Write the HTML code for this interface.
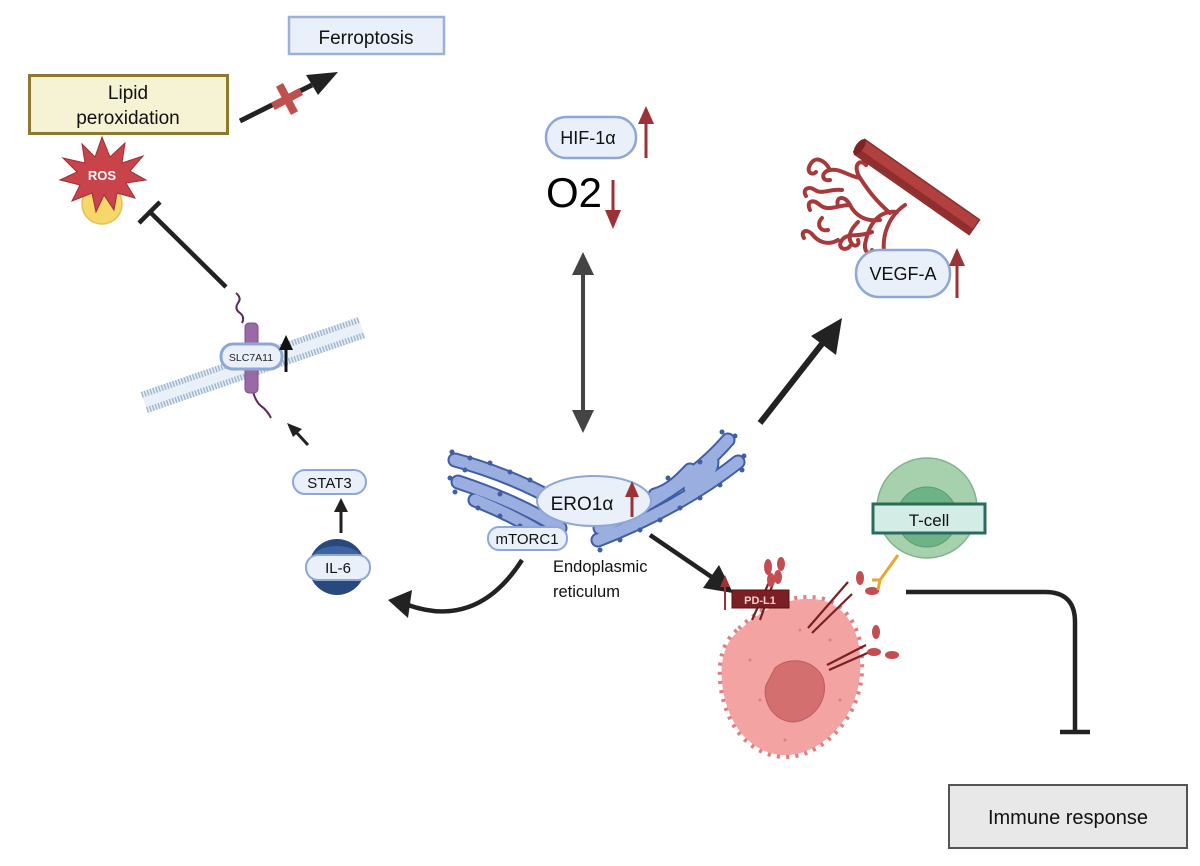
<!DOCTYPE html>
<html><head><meta charset="utf-8"><style>
html,body{margin:0;padding:0;background:#fff}
svg{display:block}
text{font-family:"Liberation Sans",sans-serif}
</style></head><body>
<svg width="1200" height="866" viewBox="0 0 1200 866" xmlns="http://www.w3.org/2000/svg">
<rect width="1200" height="866" fill="#fff"/>

<!-- Ferroptosis -->
<rect x="289" y="17" width="155" height="37" fill="#e9f0fa" stroke="#9ab2d6" stroke-width="2.5"/>
<text x="366" y="44" font-size="19" text-anchor="middle" fill="#111">Ferroptosis</text>

<!-- Lipid peroxidation -->
<rect x="29.5" y="75.5" width="198" height="58" fill="#f6f3d4" stroke="#8b7a2f" stroke-width="3"/>
<text x="128" y="99" font-size="19" text-anchor="middle" fill="#111">Lipid</text>
<text x="128" y="124" font-size="19" text-anchor="middle" fill="#111">peroxidation</text>

<!-- arrow to ferroptosis -->
<line x1="240" y1="121" x2="312" y2="85" stroke="#222" stroke-width="5"/>
<path d="M338,72 L306,75 L318,95 z" fill="#222"/>
<g transform="translate(287,99) rotate(-28)"><rect x="-16" y="-4" width="32" height="8" fill="#c0504d"/><rect x="-4" y="-16" width="8" height="32" fill="#c0504d"/></g>

<!-- ROS -->
<circle cx="102" cy="204" r="20" fill="#f6d86a" stroke="#e2c050" stroke-width="1.5"/>
<polygon points="102,137 110,157 125,143 122,163 143,156 130,171 146,180 126,183 135,198 117,193 114,210 104,195 96,212 92,193 72,201 80,185 60,180 77,172 63,158 85,163 82,144 95,157" fill="#c8434a" stroke="#9e2f36" stroke-width="1"/>
<text x="102" y="180" font-size="13" font-weight="bold" text-anchor="middle" fill="#fff">ROS</text>

<!-- inhibition to ROS -->
<line x1="226" y1="287" x2="150" y2="212" stroke="#222" stroke-width="4.5"/>
<line x1="139" y1="223" x2="160" y2="202" stroke="#222" stroke-width="4.5"/>

<!-- membrane -->
<g transform="translate(253,365) rotate(-19)">
<rect x="-115" y="-11" width="230" height="22" fill="#e9f0f8"/>
<line x1="-115" y1="-8" x2="115" y2="-8" stroke="#9fb6cf" stroke-width="6" stroke-dasharray="1.5 1.5"/>
<line x1="-115" y1="8" x2="115" y2="8" stroke="#9fb6cf" stroke-width="6" stroke-dasharray="1.5 1.5"/>
</g>
<path d="M236,293 q6,5 2,10 q-4,6 2,10 q5,4 2,10" fill="none" stroke="#5a2a5a" stroke-width="2"/>
<path d="M253,392 q3,10 8,14 q6,4 10,12" fill="none" stroke="#5a2a5a" stroke-width="2"/>
<rect x="245" y="323" width="13" height="70" rx="4" fill="#9a6aa6" stroke="#7d4d8a"/>
<rect x="221" y="344" width="61" height="25" rx="12" fill="#e9f0fa" stroke="#8ea7d6" stroke-width="3"/>
<text x="251" y="361" font-size="10.5" text-anchor="middle" fill="#222">SLC7A11</text>
<line x1="286" y1="372" x2="286" y2="348" stroke="#111" stroke-width="3"/>
<path d="M279,350 L286,335 L293,350 z" fill="#111"/>

<!-- small arrow to membrane -->
<line x1="308" y1="445" x2="296" y2="432" stroke="#222" stroke-width="3"/>
<path d="M287,423 L302,429 L293,437 z" fill="#222"/>

<!-- STAT3 -->
<rect x="293" y="470" width="73" height="24" rx="12" fill="#e9f0fa" stroke="#8ea7d6" stroke-width="2"/>
<text x="329.5" y="488" font-size="15" text-anchor="middle" fill="#111">STAT3</text>
<line x1="341" y1="533" x2="341" y2="510" stroke="#222" stroke-width="3"/>
<path d="M334,512 L341,498 L348,512 z" fill="#222"/>

<!-- IL-6 -->
<circle cx="337" cy="567" r="28" fill="#27497e"/>
<ellipse cx="337" cy="558" rx="24" ry="12" fill="#3d63a0"/>
<rect x="306" y="555" width="64" height="25" rx="12" fill="#e9f0fa" stroke="#8ea7d6" stroke-width="2"/>
<text x="338" y="573" font-size="15" text-anchor="middle" fill="#111">IL-6</text>

<!-- curved arrow mTORC1 -> IL-6 -->
<path d="M522,560 C490,610 450,620 408,605" fill="none" stroke="#222" stroke-width="4.5"/>
<path d="M388,600 L412,590 L408,618 z" fill="#222"/>

<!-- HIF-1a -->
<rect x="546" y="117" width="90" height="41" rx="20" fill="#e9f0fa" stroke="#8ea7d6" stroke-width="2.5"/>
<text x="588" y="144" font-size="18" text-anchor="middle" fill="#111">HIF-1α</text>
<line x1="646" y1="158" x2="646" y2="120" stroke="#9b3236" stroke-width="3"/>
<path d="M638,124 L646,106 L654,124 z" fill="#9b3236"/>
<text x="546" y="207" font-size="42" fill="#000">O2</text>
<line x1="613" y1="180" x2="613" y2="214" stroke="#9b3236" stroke-width="3"/>
<path d="M605,210 L613,229 L621,210 z" fill="#9b3236"/>

<!-- double arrow -->
<line x1="583" y1="270" x2="583" y2="415" stroke="#444" stroke-width="4"/>
<path d="M572,275 L583,252 L594,275 z" fill="#444"/>
<path d="M572,410 L583,433 L594,410 z" fill="#444"/>

<!-- blood vessel capillaries -->
<g stroke="#a8393b" stroke-width="4" fill="none" stroke-linecap="round">
<path d="M905,205 C890,215 880,235 885,258"/>
<path d="M897,212 C880,210 870,222 866,240 C862,252 870,256 872,250"/>
<path d="M890,213 C875,200 868,190 860,178 C852,165 860,158 866,165"/>
<path d="M880,220 C865,222 855,215 850,205 C845,195 835,196 838,206"/>
<path d="M872,232 C858,238 848,232 842,240 C836,248 846,252 850,246"/>
<path d="M860,178 C848,176 840,168 830,170 C820,172 822,182 830,180"/>
<path d="M850,205 C838,205 828,212 820,205 C812,198 806,202 810,210"/>
<path d="M830,170 C825,160 815,155 810,165 C806,172 812,176 816,172"/>
<path d="M838,240 C828,246 818,242 812,234 C806,228 800,232 804,238"/>
<path d="M866,165 C870,155 862,148 855,152"/>
<path d="M842,190 C832,188 822,195 815,190 C808,185 802,190 806,196"/>
<path d="M858,222 C852,228 846,236 852,244 C856,248 860,244 858,240"/>
<path d="M822,218 C816,224 820,232 828,230"/>
</g>
<g transform="translate(917,187) rotate(35)">
<rect x="-70" y="-9" width="140" height="18" fill="#b2403f" stroke="#8d2c2c" stroke-width="1.5"/>
<rect x="-70" y="2" width="140" height="6" fill="#8f2e2f"/>
<ellipse cx="-70" cy="0" rx="4" ry="9" fill="#7a2626"/>
</g>
<rect x="856" y="250" width="94" height="47" rx="23" fill="#e9f0fa" stroke="#8ea7d6" stroke-width="2.5"/>
<text x="903" y="280" font-size="18" text-anchor="middle" fill="#111">VEGF-A</text>
<line x1="957" y1="298" x2="957" y2="262" stroke="#9b3236" stroke-width="3"/>
<path d="M949,266 L957,248 L965,266 z" fill="#9b3236"/>

<!-- big arrow to VEGF -->
<line x1="760" y1="423" x2="825" y2="340" stroke="#222" stroke-width="6"/>
<path d="M842,318 L811,336 L836,355 z" fill="#222"/>

<!-- ER -->
<g fill="none" stroke-linecap="round">
<g stroke="#3f5ea6" stroke-width="15">
<path d="M455,460 C500,472 540,490 575,512"/>
<path d="M458,482 C500,496 530,510 560,528"/>
<path d="M475,500 C500,510 520,520 540,532"/>
<path d="M600,528 C650,505 695,478 728,440"/>
<path d="M598,540 C650,520 700,492 738,462"/>
<path d="M655,495 C672,490 682,478 690,470"/>
<path d="M690,488 C705,480 712,470 712,462"/>
</g>
<g stroke="#9aaee0" stroke-width="11">
<path d="M455,460 C500,472 540,490 575,512"/>
<path d="M458,482 C500,496 530,510 560,528"/>
<path d="M475,500 C500,510 520,520 540,532"/>
<path d="M600,528 C650,505 695,478 728,440"/>
<path d="M598,540 C650,520 700,492 738,462"/>
<path d="M655,495 C672,490 682,478 690,470"/>
<path d="M690,488 C705,480 712,470 712,462"/>
</g>
</g>
<g fill="#3f5ea6">
<circle cx="452" cy="452" r="2.5"/><circle cx="470" cy="458" r="2.5"/><circle cx="490" cy="463" r="2.5"/><circle cx="510" cy="472" r="2.5"/><circle cx="530" cy="480" r="2.5"/>
<circle cx="450" cy="478" r="2.5"/><circle cx="455" cy="492" r="2.5"/><circle cx="478" cy="508" r="2.5"/><circle cx="500" cy="516" r="2.5"/><circle cx="520" cy="526" r="2.5"/><circle cx="465" cy="470" r="2.5"/><circle cx="500" cy="494" r="2.5"/>
<circle cx="722" cy="432" r="2.5"/><circle cx="735" cy="436" r="2.5"/><circle cx="744" cy="456" r="2.5"/><circle cx="742" cy="470" r="2.5"/><circle cx="720" cy="485" r="2.5"/><circle cx="700" cy="498" r="2.5"/>
<circle cx="680" cy="508" r="2.5"/><circle cx="660" cy="520" r="2.5"/><circle cx="640" cy="530" r="2.5"/><circle cx="620" cy="540" r="2.5"/><circle cx="600" cy="550" r="2.5"/><circle cx="668" cy="478" r="2.5"/><circle cx="700" cy="462" r="2.5"/>
</g>
<ellipse cx="594" cy="501" rx="57" ry="25" fill="#e9f0fa" stroke="#8ea7d6" stroke-width="2"/>
<text x="582" y="510" font-size="19" text-anchor="middle" fill="#111">ERO1α</text>
<line x1="632" y1="517" x2="632" y2="494" stroke="#9b3236" stroke-width="3"/>
<path d="M625,497 L632,481 L639,497 z" fill="#9b3236"/>
<rect x="488" y="527" width="79" height="23" rx="11" fill="#e9f0fa" stroke="#8ea7d6" stroke-width="2"/>
<text x="527" y="544" font-size="15" text-anchor="middle" fill="#111">mTORC1</text>
<text x="553" y="572" font-size="16.5" fill="#111">Endoplasmic</text>
<text x="553" y="597" font-size="16.5" fill="#111">reticulum</text>

<!-- arrow ER -> cancer -->
<line x1="650" y1="535" x2="716" y2="580" stroke="#222" stroke-width="4.5"/>
<path d="M733,593 L703,588 L719,565 z" fill="#222"/>

<!-- cancer cell -->
<path d="M740,630 C760,610 790,595 820,600 C845,605 860,630 860,660 C862,690 850,720 825,740 C800,760 770,760 748,740 C728,722 720,690 722,665 C724,648 730,638 740,630 z" fill="#f4a3a3" stroke="#e07f80" stroke-width="8" stroke-dasharray="3 6"/>
<path d="M740,630 C760,610 790,595 820,600 C845,605 860,630 860,660 C862,690 850,720 825,740 C800,760 770,760 748,740 C728,722 720,690 722,665 C724,648 730,638 740,630 z" fill="#f4a3a3"/>
<path d="M775,668 C790,655 815,660 823,678 C830,700 812,722 792,722 C772,720 762,700 766,685 z" fill="#d46f70" stroke="#c05c5e"/>
<g fill="#e07f80"><circle cx="750" cy="660" r="1.5"/><circle cx="760" cy="700" r="1.5"/><circle cx="840" cy="700" r="1.5"/><circle cx="830" cy="640" r="1.5"/><circle cx="800" cy="630" r="1.5"/><circle cx="785" cy="740" r="1.5"/></g>
<!-- receptors -->
<g stroke="#7a1f23" stroke-width="2.2" fill="none">
<line x1="752" y1="620" x2="770" y2="580"/>
<line x1="760" y1="620" x2="776" y2="575"/>
<line x1="808" y1="628" x2="848" y2="582"/>
<line x1="812" y1="633" x2="852" y2="594"/>
<line x1="827" y1="665" x2="866" y2="645"/>
<line x1="829" y1="670" x2="872" y2="651"/>
</g>
<g fill="#c44d52">
<ellipse cx="768" cy="567" rx="4" ry="8"/><ellipse cx="771" cy="580" rx="4" ry="7"/>
<ellipse cx="781" cy="564" rx="4" ry="7"/><ellipse cx="778" cy="577" rx="4" ry="7"/>
<ellipse cx="860" cy="578" rx="4" ry="7"/><ellipse cx="872" cy="591" rx="7" ry="4"/>
<ellipse cx="876" cy="632" rx="4" ry="7"/><ellipse cx="874" cy="652" rx="7" ry="4"/><ellipse cx="892" cy="655" rx="7" ry="4"/>
</g>
<rect x="732" y="590" width="57" height="18" fill="#7a1f23" stroke="#5a1014"/>
<text x="760" y="604" font-size="11" font-weight="bold" text-anchor="middle" fill="#f4d0d0">PD-L1</text>
<line x1="725" y1="610" x2="725" y2="585" stroke="#9b3236" stroke-width="2"/>
<path d="M720,587 L725,575 L730,587 z" fill="#9b3236"/>

<!-- T-cell -->
<path d="M898,555 L880,580 L872,580 M880,580 L878,590" stroke="#e8a830" stroke-width="3" fill="none"/>
<circle cx="927" cy="508" r="50" fill="#a7d1ad" stroke="#7fb48a" stroke-width="1.5"/>
<circle cx="927" cy="517" r="30" fill="#6db386" stroke="#5a9e72"/>
<rect x="873" y="504" width="112" height="29" fill="#d3ece6" stroke="#2a6b5e" stroke-width="3"/>
<text x="929" y="526" font-size="17" text-anchor="middle" fill="#111">T-cell</text>

<!-- inhibition to immune response -->
<path d="M906,592 L1045,592 Q1075,592 1075,622 L1075,732" fill="none" stroke="#222" stroke-width="4.5"/>
<line x1="1060" y1="732" x2="1090" y2="732" stroke="#222" stroke-width="4.5"/>

<rect x="949" y="785" width="238" height="63" fill="#e8e8e8" stroke="#555" stroke-width="2"/>
<text x="1068" y="824" font-size="20" text-anchor="middle" fill="#111">Immune response</text>
</svg>
</body></html>
